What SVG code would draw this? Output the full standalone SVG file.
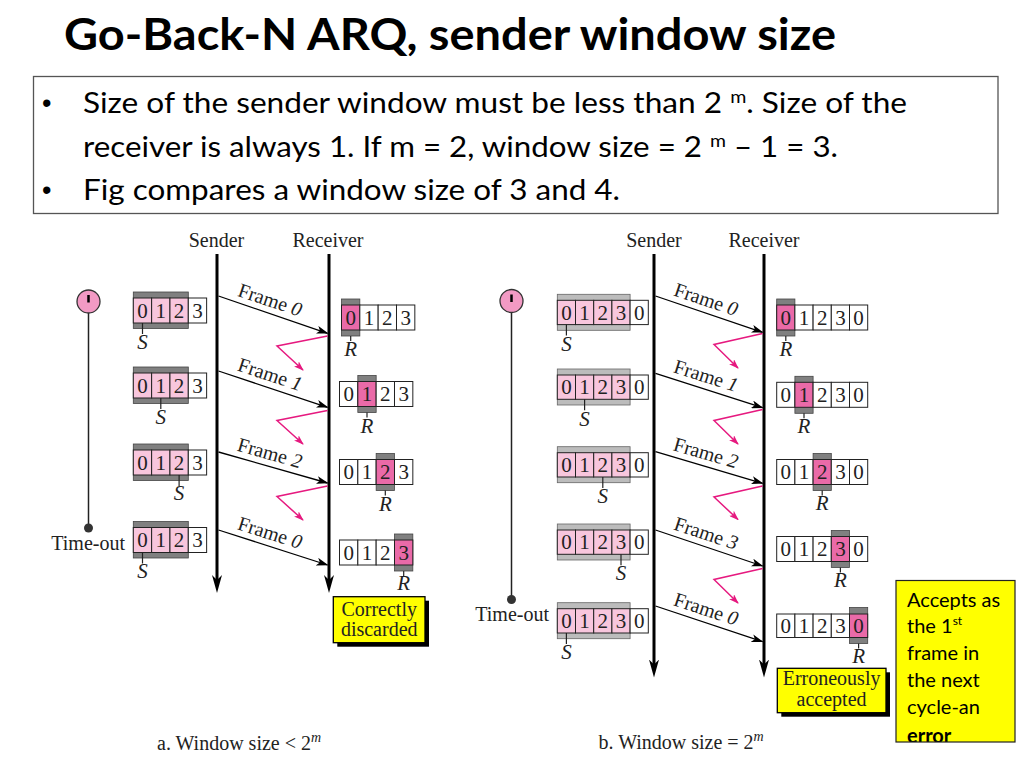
<svg xmlns="http://www.w3.org/2000/svg" width="1024" height="768" viewBox="0 0 1024 768">
<style>
.title{font-family:Lato,"Open Sans","Liberation Sans",sans-serif;font-weight:700;fill:#000}
.bul{font-family:Lato,"Open Sans","Liberation Sans",sans-serif;font-size:29px;fill:#000}
.dot{font-family:"Liberation Sans",Arial,sans-serif;font-size:27px;fill:#000}
.fig{font-family:"Liberation Serif","Times New Roman",serif;font-size:20px;fill:#222}
.dg{font-family:"Liberation Serif","Times New Roman",serif;font-size:21px;fill:#222;text-anchor:middle}
.it{font-family:"Liberation Serif","Times New Roman",serif;font-size:21px;font-style:italic;fill:#222;text-anchor:middle}
.mid{text-anchor:middle}
.cs{fill:#f8c6dd;stroke:#222;stroke-width:1}
.cw{fill:#fff;stroke:#222;stroke-width:1}
.cr{fill:#ea6aa8;stroke:#222;stroke-width:1}
.gd{fill:#808080;stroke:#444;stroke-width:.8}
.gl{fill:#bcbcbc;stroke:#666;stroke-width:.8}
.tick{stroke:#222;stroke-width:1.2}
.life{stroke:#000;stroke-width:3;fill:none}
.frm{stroke:#000;stroke-width:1.3;fill:none}
.ack{stroke:#e6197f;stroke-width:1.5;fill:none}
.note{font-family:Lato,"Open Sans","Liberation Sans",sans-serif;font-size:20px;fill:#000}
</style>
<defs>
<marker id="ah" viewBox="0 0 12 8" refX="11" refY="4" markerWidth="12" markerHeight="8" markerUnits="userSpaceOnUse" orient="auto"><path d="M0,0 L12,4 L0,8 L3,4 z" fill="#000"/></marker>
<marker id="ahBig" viewBox="0 0 18 10" refX="9" refY="5" markerWidth="18" markerHeight="10" markerUnits="userSpaceOnUse" orient="auto"><path d="M0,0 L18,5 L0,10 L5,5 z" fill="#000"/></marker>
<marker id="ahPink" viewBox="0 0 10 7" refX="9" refY="3.5" markerWidth="10" markerHeight="7" markerUnits="userSpaceOnUse" orient="auto"><path d="M0,0 L10,3.5 L0,7 L2.5,3.5 z" fill="#e6197f"/></marker>
<clipPath id="noteClip"><rect x="896" y="580.5" width="119" height="161.5"/></clipPath>
</defs>
<rect width="1024" height="768" fill="#fff"/>

<g id="title">
<text class="title" x="64" y="49.5" font-size="43" textLength="772" lengthAdjust="spacingAndGlyphs">Go-Back-N ARQ, sender window size</text>
</g>

<g id="bullets">
<rect x="33.5" y="76.5" width="964.5" height="137" fill="#fff" stroke="#555" stroke-width="1.3"/>
<text class="dot" x="42" y="112">•</text>
<text class="bul" x="83" y="113" textLength="824" lengthAdjust="spacingAndGlyphs">Size of the sender window must be less than 2 <tspan font-size="18" dy="-10">m</tspan><tspan dy="10">. Size of the</tspan></text>
<text class="bul" x="83" y="156.5" textLength="755" lengthAdjust="spacingAndGlyphs">receiver is always 1. If m = 2, window size = 2 <tspan font-size="18" dy="-10">m</tspan><tspan dy="10"> – 1 = 3.</tspan></text>
<text class="dot" x="42" y="199">•</text>
<text class="bul" x="83" y="200" textLength="537" lengthAdjust="spacingAndGlyphs">Fig compares a window size of 3 and 4.</text>
</g>

<!-- ===== Left diagram ===== -->
<g id="a-labels">
<text class="fig mid" x="216.5" y="246.5">Sender</text>
<text class="fig mid" x="328" y="246.5">Receiver</text>
</g>

<g id="a-timer">
<line x1="88.5" y1="313" x2="88.5" y2="528" stroke="#222" stroke-width="1.5"/>
<circle cx="88.5" cy="301.5" r="11.5" fill="#f29ac4" stroke="#333" stroke-width="1.3"/>
<line x1="88.5" y1="295" x2="88.5" y2="302.5" stroke="#000" stroke-width="2.5"/>
<circle cx="88.5" cy="528" r="4.5" fill="#333"/>
<text class="fig" x="125" y="550" text-anchor="end">Time-out</text>
</g>

<g id="a-s1">
<rect class="gd" x="133.3" y="292" width="55" height="36.5"/>
<rect class="cs" x="133.3" y="298" width="18.33" height="25"/><rect class="cs" x="151.63" y="298" width="18.33" height="25"/><rect class="cs" x="169.96" y="298" width="18.33" height="25"/><rect class="cw" x="188.3" y="298" width="18.33" height="25"/>
<text class="dg" x="142.5" y="317.5">0</text><text class="dg" x="160.8" y="317.5">1</text><text class="dg" x="179.1" y="317.5">2</text><text class="dg" x="197.5" y="317.5">3</text>
<line class="tick" x1="142.5" y1="323" x2="142.5" y2="334"/><text class="it" x="142.5" y="348.5">S</text>
</g>
<g id="a-s2">
<rect class="gd" x="133.3" y="367" width="55" height="36.5"/>
<rect class="cs" x="133.3" y="373" width="18.33" height="25"/><rect class="cs" x="151.63" y="373" width="18.33" height="25"/><rect class="cs" x="169.96" y="373" width="18.33" height="25"/><rect class="cw" x="188.3" y="373" width="18.33" height="25"/>
<text class="dg" x="142.5" y="392.5">0</text><text class="dg" x="160.8" y="392.5">1</text><text class="dg" x="179.1" y="392.5">2</text><text class="dg" x="197.5" y="392.5">3</text>
<line class="tick" x1="160.8" y1="398" x2="160.8" y2="409"/><text class="it" x="160.8" y="423.5">S</text>
</g>
<g id="a-s3">
<rect class="gd" x="133.3" y="444" width="55" height="36.5"/>
<rect class="cs" x="133.3" y="450" width="18.33" height="25"/><rect class="cs" x="151.63" y="450" width="18.33" height="25"/><rect class="cs" x="169.96" y="450" width="18.33" height="25"/><rect class="cw" x="188.3" y="450" width="18.33" height="25"/>
<text class="dg" x="142.5" y="469.5">0</text><text class="dg" x="160.8" y="469.5">1</text><text class="dg" x="179.1" y="469.5">2</text><text class="dg" x="197.5" y="469.5">3</text>
<line class="tick" x1="179.1" y1="475" x2="179.1" y2="486"/><text class="it" x="179.1" y="499.5">S</text>
</g>
<g id="a-s4">
<rect class="gd" x="133.3" y="521.5" width="55" height="36.5"/>
<rect class="cs" x="133.3" y="527.5" width="18.33" height="25"/><rect class="cs" x="151.63" y="527.5" width="18.33" height="25"/><rect class="cs" x="169.96" y="527.5" width="18.33" height="25"/><rect class="cw" x="188.3" y="527.5" width="18.33" height="25"/>
<text class="dg" x="142.5" y="547">0</text><text class="dg" x="160.8" y="547">1</text><text class="dg" x="179.1" y="547">2</text><text class="dg" x="197.5" y="547">3</text>
<line class="tick" x1="142.5" y1="552.5" x2="142.5" y2="563.5"/><text class="it" x="142.5" y="577.5">S</text>
</g>

<g id="a-r1">
<rect class="gd" x="341.5" y="299" width="18.33" height="37"/>
<rect class="cr" x="341.5" y="305" width="18.33" height="25"/><rect class="cw" x="359.83" y="305" width="18.33" height="25"/><rect class="cw" x="378.16" y="305" width="18.33" height="25"/><rect class="cw" x="396.5" y="305" width="18.33" height="25"/>
<text class="dg" x="350.7" y="324.5">0</text><text class="dg" x="369" y="324.5">1</text><text class="dg" x="387.3" y="324.5">2</text><text class="dg" x="405.7" y="324.5">3</text>
<line class="tick" x1="350.7" y1="336" x2="350.7" y2="341"/><text class="it" x="350.7" y="356">R</text>
</g>
<g id="a-r2">
<rect class="gd" x="357.83" y="375.5" width="18.33" height="37"/>
<rect class="cw" x="339.5" y="381.5" width="18.33" height="25"/><rect class="cr" x="357.83" y="381.5" width="18.33" height="25"/><rect class="cw" x="376.16" y="381.5" width="18.33" height="25"/><rect class="cw" x="394.5" y="381.5" width="18.33" height="25"/>
<text class="dg" x="348.7" y="401">0</text><text class="dg" x="367" y="401">1</text><text class="dg" x="385.3" y="401">2</text><text class="dg" x="403.7" y="401">3</text>
<line class="tick" x1="367" y1="412.5" x2="367" y2="417.5"/><text class="it" x="367" y="432.5">R</text>
</g>
<g id="a-r3">
<rect class="gd" x="376.16" y="453.5" width="18.33" height="37"/>
<rect class="cw" x="339.5" y="459.5" width="18.33" height="25"/><rect class="cw" x="357.83" y="459.5" width="18.33" height="25"/><rect class="cr" x="376.16" y="459.5" width="18.33" height="25"/><rect class="cw" x="394.5" y="459.5" width="18.33" height="25"/>
<text class="dg" x="348.7" y="479">0</text><text class="dg" x="367" y="479">1</text><text class="dg" x="385.3" y="479">2</text><text class="dg" x="403.7" y="479">3</text>
<line class="tick" x1="385.3" y1="490.5" x2="385.3" y2="495.5"/><text class="it" x="385.3" y="510.5">R</text>
</g>
<g id="a-r4">
<rect class="gd" x="394.5" y="534" width="18.33" height="37"/>
<rect class="cw" x="339.5" y="540" width="18.33" height="25"/><rect class="cw" x="357.83" y="540" width="18.33" height="25"/><rect class="cw" x="376.16" y="540" width="18.33" height="25"/><rect class="cr" x="394.5" y="540" width="18.33" height="25"/>
<text class="dg" x="348.7" y="559.5">0</text><text class="dg" x="367" y="559.5">1</text><text class="dg" x="385.3" y="559.5">2</text><text class="dg" x="403.7" y="559.5">3</text>
<line class="tick" x1="403.7" y1="571" x2="403.7" y2="576"/><text class="it" x="403.7" y="589.5">R</text>
</g>

<g id="a-note">
<rect x="337.3" y="600.7" width="91.7" height="46" fill="#000"/>
<rect x="333.3" y="596.7" width="91.7" height="46" fill="#ffff00" stroke="#000" stroke-width="1.3"/>
<text class="fig mid" x="379.2" y="615.5">Correctly</text>
<text class="fig mid" x="379.2" y="636">discarded</text>
</g>

<g id="a-caption">
<text class="fig" x="157" y="750" font-size="20.5">a. Window size &lt; 2<tspan font-size="14" font-style="italic" dy="-8">m</tspan></text>
</g>

<!-- ===== Right diagram ===== -->
<g id="b-labels">
<text class="fig mid" x="654" y="246.5">Sender</text>
<text class="fig mid" x="764" y="246.5">Receiver</text>
</g>

<g id="b-timer">
<line x1="511.5" y1="312.5" x2="511.5" y2="599.5" stroke="#222" stroke-width="1.5"/>
<circle cx="511.5" cy="301" r="11.5" fill="#f29ac4" stroke="#333" stroke-width="1.3"/>
<line x1="511.5" y1="294.5" x2="511.5" y2="302" stroke="#000" stroke-width="2.5"/>
<circle cx="511.5" cy="599.5" r="4.5" fill="#333"/>
<text class="fig" x="549" y="620.5" text-anchor="end">Time-out</text>
</g>

<g id="b-s1">
<rect class="gl" x="557.3" y="294.3" width="72.8" height="36"/>
<rect class="cs" x="557.3" y="300.3" width="18.2" height="24.3"/><rect class="cs" x="575.5" y="300.3" width="18.2" height="24.3"/><rect class="cs" x="593.7" y="300.3" width="18.2" height="24.3"/><rect class="cs" x="611.9" y="300.3" width="18.2" height="24.3"/><rect class="cw" x="630.1" y="300.3" width="18.2" height="24.3"/>
<text class="dg" x="566.4" y="319.5">0</text><text class="dg" x="584.6" y="319.5">1</text><text class="dg" x="602.8" y="319.5">2</text><text class="dg" x="621" y="319.5">3</text><text class="dg" x="639.2" y="319.5">0</text>
<line class="tick" x1="566.4" y1="324.6" x2="566.4" y2="335.5"/><text class="it" x="566.4" y="350.5">S</text>
</g>
<g id="b-s2">
<rect class="gl" x="557.3" y="369" width="72.8" height="36"/>
<rect class="cs" x="557.3" y="375" width="18.2" height="24.3"/><rect class="cs" x="575.5" y="375" width="18.2" height="24.3"/><rect class="cs" x="593.7" y="375" width="18.2" height="24.3"/><rect class="cs" x="611.9" y="375" width="18.2" height="24.3"/><rect class="cw" x="630.1" y="375" width="18.2" height="24.3"/>
<text class="dg" x="566.4" y="394.2">0</text><text class="dg" x="584.6" y="394.2">1</text><text class="dg" x="602.8" y="394.2">2</text><text class="dg" x="621" y="394.2">3</text><text class="dg" x="639.2" y="394.2">0</text>
<line class="tick" x1="584.6" y1="399.3" x2="584.6" y2="410.2"/><text class="it" x="584.6" y="425.5">S</text>
</g>
<g id="b-s3">
<rect class="gl" x="557.3" y="446.7" width="72.8" height="36"/>
<rect class="cs" x="557.3" y="452.7" width="18.2" height="24.3"/><rect class="cs" x="575.5" y="452.7" width="18.2" height="24.3"/><rect class="cs" x="593.7" y="452.7" width="18.2" height="24.3"/><rect class="cs" x="611.9" y="452.7" width="18.2" height="24.3"/><rect class="cw" x="630.1" y="452.7" width="18.2" height="24.3"/>
<text class="dg" x="566.4" y="471.9">0</text><text class="dg" x="584.6" y="471.9">1</text><text class="dg" x="602.8" y="471.9">2</text><text class="dg" x="621" y="471.9">3</text><text class="dg" x="639.2" y="471.9">0</text>
<line class="tick" x1="602.8" y1="477" x2="602.8" y2="487.9"/><text class="it" x="602.8" y="502.5">S</text>
</g>
<g id="b-s4">
<rect class="gl" x="557.3" y="524" width="72.8" height="36"/>
<rect class="cs" x="557.3" y="530" width="18.2" height="24.3"/><rect class="cs" x="575.5" y="530" width="18.2" height="24.3"/><rect class="cs" x="593.7" y="530" width="18.2" height="24.3"/><rect class="cs" x="611.9" y="530" width="18.2" height="24.3"/><rect class="cw" x="630.1" y="530" width="18.2" height="24.3"/>
<text class="dg" x="566.4" y="549.2">0</text><text class="dg" x="584.6" y="549.2">1</text><text class="dg" x="602.8" y="549.2">2</text><text class="dg" x="621" y="549.2">3</text><text class="dg" x="639.2" y="549.2">0</text>
<line class="tick" x1="621" y1="554.3" x2="621" y2="565.2"/><text class="it" x="621" y="580">S</text>
</g>
<g id="b-s5">
<rect class="gl" x="557.3" y="602.7" width="72.8" height="36"/>
<rect class="cs" x="557.3" y="608.7" width="18.2" height="24.3"/><rect class="cs" x="575.5" y="608.7" width="18.2" height="24.3"/><rect class="cs" x="593.7" y="608.7" width="18.2" height="24.3"/><rect class="cs" x="611.9" y="608.7" width="18.2" height="24.3"/><rect class="cw" x="630.1" y="608.7" width="18.2" height="24.3"/>
<text class="dg" x="566.4" y="627.9">0</text><text class="dg" x="584.6" y="627.9">1</text><text class="dg" x="602.8" y="627.9">2</text><text class="dg" x="621" y="627.9">3</text><text class="dg" x="639.2" y="627.9">0</text>
<line class="tick" x1="566.4" y1="633" x2="566.4" y2="643.9"/><text class="it" x="566.4" y="659">S</text>
</g>

<g id="b-r1">
<rect class="gd" x="776.7" y="299" width="18.2" height="37"/>
<rect class="cr" x="776.7" y="305" width="18.2" height="25"/><rect class="cw" x="794.9" y="305" width="18.2" height="25"/><rect class="cw" x="813.1" y="305" width="18.2" height="25"/><rect class="cw" x="831.3" y="305" width="18.2" height="25"/><rect class="cw" x="849.5" y="305" width="18.2" height="25"/>
<text class="dg" x="785.8" y="324.5">0</text><text class="dg" x="804" y="324.5">1</text><text class="dg" x="822.2" y="324.5">2</text><text class="dg" x="840.4" y="324.5">3</text><text class="dg" x="858.6" y="324.5">0</text>
<line class="tick" x1="785.8" y1="336" x2="785.8" y2="341"/><text class="it" x="785.8" y="356">R</text>
</g>
<g id="b-r2">
<rect class="gd" x="794.9" y="376.3" width="18.2" height="37"/>
<rect class="cw" x="776.7" y="382.3" width="18.2" height="25"/><rect class="cr" x="794.9" y="382.3" width="18.2" height="25"/><rect class="cw" x="813.1" y="382.3" width="18.2" height="25"/><rect class="cw" x="831.3" y="382.3" width="18.2" height="25"/><rect class="cw" x="849.5" y="382.3" width="18.2" height="25"/>
<text class="dg" x="785.8" y="401.8">0</text><text class="dg" x="804" y="401.8">1</text><text class="dg" x="822.2" y="401.8">2</text><text class="dg" x="840.4" y="401.8">3</text><text class="dg" x="858.6" y="401.8">0</text>
<line class="tick" x1="804" y1="413.3" x2="804" y2="418.3"/><text class="it" x="804" y="433">R</text>
</g>
<g id="b-r3">
<rect class="gd" x="813.1" y="453.5" width="18.2" height="37"/>
<rect class="cw" x="776.7" y="459.5" width="18.2" height="25"/><rect class="cw" x="794.9" y="459.5" width="18.2" height="25"/><rect class="cr" x="813.1" y="459.5" width="18.2" height="25"/><rect class="cw" x="831.3" y="459.5" width="18.2" height="25"/><rect class="cw" x="849.5" y="459.5" width="18.2" height="25"/>
<text class="dg" x="785.8" y="479">0</text><text class="dg" x="804" y="479">1</text><text class="dg" x="822.2" y="479">2</text><text class="dg" x="840.4" y="479">3</text><text class="dg" x="858.6" y="479">0</text>
<line class="tick" x1="822.2" y1="490.5" x2="822.2" y2="495.5"/><text class="it" x="822.2" y="510">R</text>
</g>
<g id="b-r4">
<rect class="gd" x="831.3" y="530.5" width="18.2" height="37"/>
<rect class="cw" x="776.7" y="536.5" width="18.2" height="25"/><rect class="cw" x="794.9" y="536.5" width="18.2" height="25"/><rect class="cw" x="813.1" y="536.5" width="18.2" height="25"/><rect class="cr" x="831.3" y="536.5" width="18.2" height="25"/><rect class="cw" x="849.5" y="536.5" width="18.2" height="25"/>
<text class="dg" x="785.8" y="556">0</text><text class="dg" x="804" y="556">1</text><text class="dg" x="822.2" y="556">2</text><text class="dg" x="840.4" y="556">3</text><text class="dg" x="858.6" y="556">0</text>
<line class="tick" x1="840.4" y1="567.5" x2="840.4" y2="572.5"/><text class="it" x="840.4" y="587">R</text>
</g>
<g id="b-r5">
<rect class="gd" x="849.5" y="607.5" width="18.2" height="36"/>
<rect class="cw" x="776.7" y="614" width="18.2" height="23.5"/><rect class="cw" x="794.9" y="614" width="18.2" height="23.5"/><rect class="cw" x="813.1" y="614" width="18.2" height="23.5"/><rect class="cw" x="831.3" y="614" width="18.2" height="23.5"/><rect class="cr" x="849.5" y="614" width="18.2" height="23.5"/>
<text class="dg" x="785.8" y="632.5">0</text><text class="dg" x="804" y="632.5">1</text><text class="dg" x="822.2" y="632.5">2</text><text class="dg" x="840.4" y="632.5">3</text><text class="dg" x="858.6" y="632.5">0</text>
<line class="tick" x1="858.6" y1="643.5" x2="858.6" y2="648.5"/><text class="it" x="858.6" y="663">R</text>
</g>

<g id="b-note">
<rect x="781.3" y="672.3" width="108.7" height="44.4" fill="#000"/>
<rect x="777.3" y="668.3" width="108.7" height="44.4" fill="#ffff00" stroke="#000" stroke-width="1.3"/>
<text class="fig mid" x="831.6" y="685">Erroneously</text>
<text class="fig mid" x="831.6" y="706">accepted</text>
</g>

<g id="b-caption">
<text class="fig" x="598.5" y="748.5" font-size="20.5">b. Window size = 2<tspan font-size="14" font-style="italic" dy="-8">m</tspan></text>
</g>

<g id="error-note">
<rect x="896" y="580.5" width="119" height="161.5" fill="#ffff00"/>
<g clip-path="url(#noteClip)">
<text class="note" x="907" y="606.5">Accepts as</text>
<text class="note" x="907" y="633.3">the 1<tspan font-size="12" dy="-8">st</tspan></text>
<text class="note" x="907" y="660">frame in</text>
<text class="note" x="907" y="687">the next</text>
<text class="note" x="907" y="714">cycle-an</text>
<text class="note" x="907" y="743" font-weight="700">error</text>
</g>
<rect x="896" y="580.5" width="119" height="161.5" fill="none" stroke="#222" stroke-width="1.2"/>
</g>

<!-- ===== Connectors ===== -->
<g id="connectors">
<line class="life" x1="217" y1="254" x2="217" y2="584" marker-end="url(#ahBig)"/>
<line class="life" x1="329" y1="254" x2="329" y2="584" marker-end="url(#ahBig)"/>
<line class="life" x1="654" y1="254" x2="654" y2="668.5" marker-end="url(#ahBig)"/>
<line class="life" x1="764" y1="254" x2="764" y2="668.5" marker-end="url(#ahBig)"/>

<line class="frm" x1="218.5" y1="296" x2="327.5" y2="333.3" marker-end="url(#ah)"/>
<line class="frm" x1="218.5" y1="371" x2="327.5" y2="407.3" marker-end="url(#ah)"/>
<line class="frm" x1="218.5" y1="452" x2="327.5" y2="483" marker-end="url(#ah)"/>
<line class="frm" x1="218.5" y1="530" x2="327.5" y2="565" marker-end="url(#ah)"/>

<line class="frm" x1="655.5" y1="296" x2="762.5" y2="332.3" marker-end="url(#ah)"/>
<line class="frm" x1="655.5" y1="373.3" x2="762.5" y2="407.7" marker-end="url(#ah)"/>
<line class="frm" x1="655.5" y1="451.7" x2="762.5" y2="483.3" marker-end="url(#ah)"/>
<line class="frm" x1="655.5" y1="530" x2="762.5" y2="566" marker-end="url(#ah)"/>
<line class="frm" x1="655.5" y1="606" x2="762.5" y2="641.7" marker-end="url(#ah)"/>

<polyline class="ack" points="327.5,336 277,346 303,370" marker-end="url(#ahPink)"/>
<polyline class="ack" points="327.5,410.5 277,420.5 303,444" marker-end="url(#ahPink)"/>
<polyline class="ack" points="327.5,486 277,496.5 303,520" marker-end="url(#ahPink)"/>

<polyline class="ack" points="762.5,333.5 714,344.5 738,368" marker-end="url(#ahPink)"/>
<polyline class="ack" points="762.5,409.5 714,420.5 738,444" marker-end="url(#ahPink)"/>
<polyline class="ack" points="762.5,486 714,497 738,519.5" marker-end="url(#ahPink)"/>
<polyline class="ack" points="762.5,568.5 714,579.5 738,603" marker-end="url(#ahPink)"/>

<g class="fig" font-size="20.5">
<text class="mid" x="268" y="306.2" transform="rotate(18.6 268 306.2)">Frame <tspan font-style="italic">0</tspan></text>
<text class="mid" x="268" y="380.7" transform="rotate(18.2 268 380.7)">Frame <tspan font-style="italic">1</tspan></text>
<text class="mid" x="268" y="459.4" transform="rotate(15.7 268 459.4)">Frame <tspan font-style="italic">2</tspan></text>
<text class="mid" x="268" y="539.1" transform="rotate(17.6 268 539.1)">Frame <tspan font-style="italic">0</tspan></text>
<text class="mid" x="704" y="305.7" transform="rotate(18.5 704 305.7)">Frame <tspan font-style="italic">0</tspan></text>
<text class="mid" x="704" y="382.1" transform="rotate(17.6 704 382.1)">Frame <tspan font-style="italic">1</tspan></text>
<text class="mid" x="704" y="459.3" transform="rotate(16.2 704 459.3)">Frame <tspan font-style="italic">2</tspan></text>
<text class="mid" x="704" y="539.6" transform="rotate(18.3 704 539.6)">Frame <tspan font-style="italic">3</tspan></text>
<text class="mid" x="704" y="615.4" transform="rotate(18.2 704 615.4)">Frame <tspan font-style="italic">0</tspan></text>
</g>
</g>
</svg>
